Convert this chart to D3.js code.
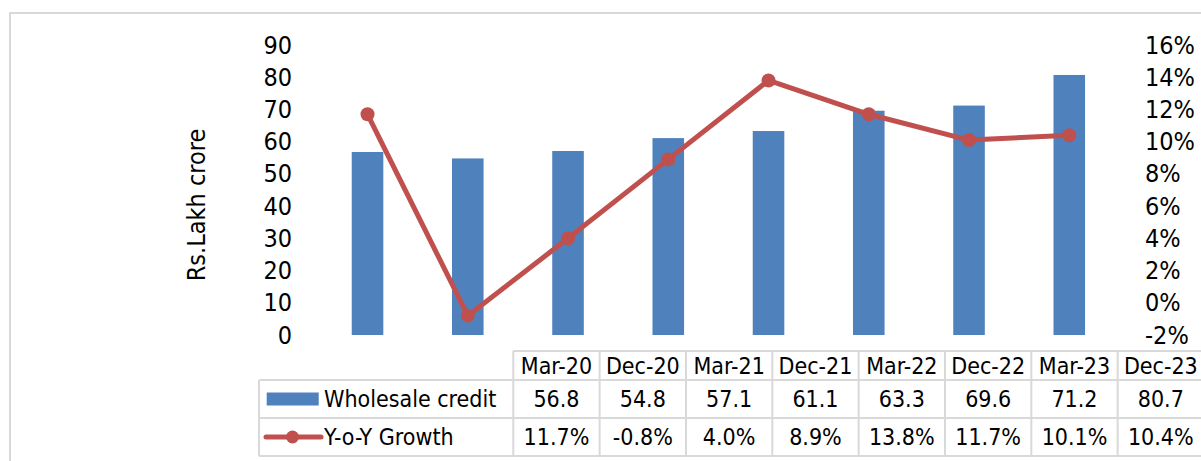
<!DOCTYPE html>
<html>
<head>
<meta charset="utf-8">
<script src="https://cdn.jsdelivr.net/npm/d3@7/dist/d3.min.js"></script>
<style>
  html, body { margin: 0; padding: 0; background: #fff; }
  svg text { font-family: "DejaVu Sans Condensed", "DejaVu Sans", sans-serif; font-stretch: condensed; fill: #000; }
</style>
</head>
<body>
<svg id="chart" width="1201" height="461"></svg>
<script>
const categories = ["Mar-20", "Dec-20", "Mar-21", "Dec-21", "Mar-22", "Dec-22", "Mar-23", "Dec-23"];
const wholesaleCredit = [56.8, 54.8, 57.1, 61.1, 63.3, 69.6, 71.2, 80.7];
const yoyGrowth = [11.7, -0.8, 4.0, 8.9, 13.8, 11.7, 10.1, 10.4];
const leftTicks = [0, 10, 20, 30, 40, 50, 60, 70, 80, 90];
const rightTicks = [-2, 0, 2, 4, 6, 8, 10, 12, 14, 16];
const seriesNames = ["Wholesale credit", "Y-o-Y Growth"];
const yAxisTitle = "Rs.Lakh crore";

const BAR = "#4F81BD", LINE = "#C0504D", GRID = "#d9d9d9";
const FS = 23, AFS = 25;

const svg = d3.select("#chart");

// outer chart border
svg.append("rect").attr("x", 10).attr("y", 13).attr("width", 1220).attr("height", 460)
  .attr("fill", "none").attr("stroke", GRID).attr("stroke-width", 2);

const plotTop = 45, plotBottom = 335;
const x = d3.scaleBand().domain(categories).range([317.4, 1119.4]).padding(0);
const yL = d3.scaleLinear().domain([0, 90]).range([plotBottom, plotTop]);
const yR = d3.scaleLinear().domain([-2, 16]).range([plotBottom, plotTop]);
const barW = x.bandwidth() * 0.315;

// bars
svg.append("g").selectAll("rect").data(categories).join("rect")
  .attr("x", (d) => x(d) + x.bandwidth() / 2 - barW / 2)
  .attr("y", (d, i) => yL(wholesaleCredit[i]))
  .attr("width", barW)
  .attr("height", (d, i) => yL(0) - yL(wholesaleCredit[i]))
  .attr("fill", BAR);

// line
const line = d3.line()
  .x((d, i) => x(categories[i]) + x.bandwidth() / 2)
  .y((d) => yR(d));
svg.append("path").datum(yoyGrowth).attr("d", line)
  .attr("fill", "none").attr("stroke", LINE).attr("stroke-width", 5).attr("stroke-linejoin", "round");
svg.append("g").selectAll("circle").data(yoyGrowth).join("circle")
  .attr("cx", (d, i) => x(categories[i]) + x.bandwidth() / 2)
  .attr("cy", (d) => yR(d))
  .attr("r", 7).attr("fill", LINE);

// axes
const gL = svg.append("g").attr("transform", "translate(292,0)")
  .call(d3.axisLeft(yL).tickValues(leftTicks).tickSize(0).tickPadding(0).tickFormat(d3.format("d")));
const gR = svg.append("g").attr("transform", "translate(1145,0)")
  .call(d3.axisRight(yR).tickValues(rightTicks).tickSize(0).tickPadding(0).tickFormat((d) => d + "%"));
[gL, gR].forEach((g) => {
  g.select(".domain").remove();
  g.selectAll("text").attr("font-size", AFS);
});
svg.selectAll(".tick text").attr("font-family", null);

// y axis title
svg.append("text").attr("transform", "translate(196,205) rotate(-90)")
  .attr("text-anchor", "middle").attr("dy", "0.35em").attr("font-size", AFS).text(yAxisTitle);

// data table
const tx = d3.scaleBand().domain(categories).range([513.3, 1204]);
const rowY = [351, 380, 418, 456];
const tbl = svg.append("g");
const gridStyle = (sel) => sel.attr("stroke", GRID).attr("stroke-width", 2).attr("fill", "none");

tbl.append("line").attr("x1", 513.3).attr("x2", 1204).attr("y1", rowY[0]).attr("y2", rowY[0]).call(gridStyle);
[1, 2, 3].forEach((r) => {
  tbl.append("line").attr("x1", 259).attr("x2", 1204).attr("y1", rowY[r]).attr("y2", rowY[r]).call(gridStyle);
});
tbl.append("line").attr("x1", 259).attr("x2", 259).attr("y1", rowY[1]).attr("y2", rowY[3]).call(gridStyle);
categories.forEach((c) => {
  tbl.append("line").attr("x1", tx(c)).attr("x2", tx(c)).attr("y1", rowY[0]).attr("y2", rowY[3]).call(gridStyle);
});
tbl.append("line").attr("x1", 1204).attr("x2", 1204).attr("y1", rowY[0]).attr("y2", rowY[3]).call(gridStyle);

const rowMid = (r) => (rowY[r] + rowY[r + 1]) / 2;
const cellText = (vals, r) => {
  tbl.append("g").selectAll("text").data(vals).join("text")
    .attr("x", (d, i) => tx(categories[i]) + tx.bandwidth() / 2)
    .attr("y", rowMid(r)).attr("dy", "0.36em")
    .attr("text-anchor", "middle").attr("font-size", FS).text((d) => d);
};
cellText(categories, 0);
cellText(wholesaleCredit.map((v) => v.toFixed(1)), 1);
cellText(yoyGrowth.map((v) => v.toFixed(1) + "%"), 2);

// legend keys
tbl.append("rect").attr("x", 266.7).attr("y", rowMid(1) - 6.5).attr("width", 52).attr("height", 13).attr("fill", BAR);
tbl.append("line").attr("x1", 266).attr("x2", 321).attr("y1", rowMid(2)).attr("y2", rowMid(2))
  .attr("stroke", LINE).attr("stroke-width", 5).attr("stroke-linecap", "round");
tbl.append("circle").attr("cx", 292.5).attr("cy", rowMid(2)).attr("r", 6.5).attr("fill", LINE);
[1, 2].forEach((r, i) => {
  tbl.append("text").attr("x", 324).attr("y", rowMid(r)).attr("dy", "0.36em")
    .attr("font-size", FS).text(seriesNames[i]);
});
</script>
</body>
</html>
